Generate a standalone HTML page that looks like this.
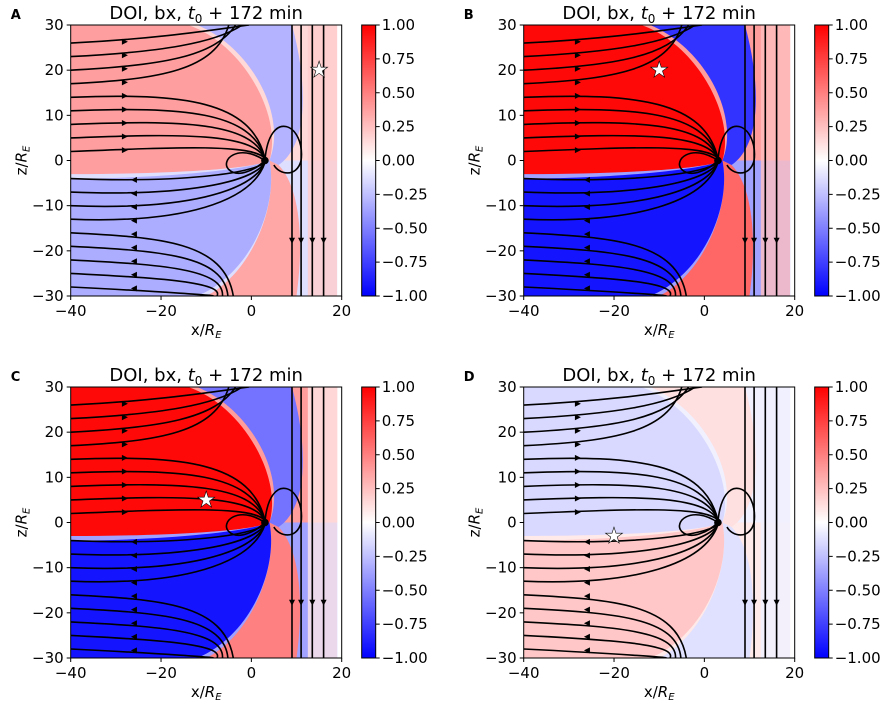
<!DOCTYPE html>
<html><head><meta charset="utf-8"><style>
body{margin:0;background:#fff;}
svg text{font-family:"DejaVu Sans","Liberation Sans",sans-serif;fill:#000;}
</style></head><body>
<svg id="fig" width="891" height="708" viewBox="0 0 891 708" xmlns="http://www.w3.org/2000/svg">
<defs>
<linearGradient id="cbar" x1="0" y1="1" x2="0" y2="0">
<stop offset="0" stop-color="#0000ff"/><stop offset="0.5" stop-color="#ffffff"/><stop offset="1" stop-color="#ff0000"/>
</linearGradient>
</defs>
</svg>
<script>
const panelLetters=["A","B","C","D"];
const upperLobe=[0.38,0.97,0.97,-0.15];
const lowerLobe=[-0.32,-0.92,-0.92,0.22];
const sheathUpper=[-0.3,-0.8,-0.55,0.12];
const sheathLower=[0.35,0.6,0.5,-0.12];
const stripVal=[0.2,0.25,0.1,-0.06];
const starX=[15,-10,-10,-20];
const starZ=[20,20,5,-3];
const xTicks=[-40,-20,0,20];
const zTicks=[-30,-20,-10,0,10,20,30];
const cbTicks=[-1,-0.75,-0.5,-0.25,0,0.25,0.5,0.75,1];
const upperLines=[2,5,8,11,14,17,20,23,26];
const lowerLines=[-4,-7,-10,-13,-16,-19,-22,-25,-28];
const verticalLines=[9,11,13.5,16];

const svg=document.getElementById('fig');
const NS="http://www.w3.org/2000/svg";
function el(t,a,p){const e=document.createElementNS(NS,t);for(const k in a)e.setAttribute(k,a[k]);(p||svg).appendChild(e);return e;}
function col(v){v=Math.max(-1,Math.min(1,v));let r,g,b;if(v>=0){r=255;g=b=Math.round(255*(1-v));}else{b=255;r=g=Math.round(255*(1+v));}return `rgb(${r},${g},${b})`;}
function fmt(v){return (v<0?"\u2212":"")+Math.abs(v).toFixed(2);}

const X0=70.7,Y0=25,W=271,H=271,DX=453,DY=362;
panelLetters.forEach((L,i)=>{
  const ox=X0+(i%2)*DX, oy=Y0+Math.floor(i/2)*DY;
  const sx=x=>ox+(x+40)/60*W, sz=z=>oy+(30-z)/60*H;
  const P=(x,z)=>sx(x).toFixed(1)+","+sz(z).toFixed(1);
  const g=el('g',{});
  
  
  const cid='clip'+i;
  const cp=el('clipPath',{id:cid},g);el('rect',{x:ox,y:oy,width:W,height:H},cp);
  const pg=el('g',{'clip-path':`url(#${cid})`},g);
  
  
  el('rect',{x:ox,y:oy,width:W,height:H,fill:col(upperLobe[i]*0.4)},pg);
  el('rect',{x:ox,y:sz(0),width:W,height:H/2,fill:col(lowerLobe[i]*0.4)},pg);
  const su=el('path',{d:`M${P(-12,30)}L${P(9,30)}C${P(13,15)} ${P(12,3)} ${P(6,-1)}L${P(4,0)}C${P(8,10)} ${P(0,25)} ${P(-12,30)}Z`,fill:col(sheathUpper[i])},pg);
  
  const sl=el('path',{d:`M${P(-10,-30)}L${P(10,-30)}C${P(12,-15)} ${P(10,-5)} ${P(6,-1)}L${P(4,0)}C${P(6,-10)} ${P(0,-25)} ${P(-10,-30)}Z`,fill:col(sheathLower[i])},pg);
  
  const ul=el('path',{d:`M${P(-40,-3)}L${P(-40,30)}L${P(-14,30)}C${P(-2,26)} ${P(7,10)} ${P(4,0)}C${P(0,-2)} ${P(-20,-3)} ${P(-40,-3)}Z`,fill:col(upperLobe[i])},pg);
  
  const ll=el('path',{d:`M${P(-40,-4)}L${P(-40,-30)}L${P(-12,-30)}C${P(0,-25)} ${P(6,-10)} ${P(4,0)}C${P(0,-2)} ${P(-20,-4)} ${P(-40,-4)}Z`,fill:col(lowerLobe[i])},pg);
  
  el('rect',{x:sx(12.5),y:oy,width:sx(19)-sx(12.5),height:H,fill:col(stripVal[i]),opacity:0.8},pg);
  el('rect',{x:sx(19),y:oy,width:sx(20)-sx(19),height:H,fill:'#fff'},pg);
  const sg=el('g',{fill:'none',stroke:'#000','stroke-width':1.6},pg);
  
  
  upperLines.forEach(z=>{
    let d;
    if(z<15) d=`M${P(-40,z)}C${P(-15,z+1)} ${P(0,z*0.8+2)} ${P(3,0.5)}`;
    else d=`M${P(-40,z)}C${P(-20,z+1)} ${P(-8,z+3)} ${P(-6+(z-15)*0.5,30)}`;
    el('path',{d},sg);
    el('polygon',{points:`${sx(-28)-3},${sz(z+0.3)-3} ${sx(-28)+3},${sz(z+0.3)} ${sx(-28)-3},${sz(z+0.3)+3}`,fill:'#000',stroke:'none'},sg);
  });
  lowerLines.forEach(z=>{
    let d;
    if(z>-16) d=`M${P(-40,z)}C${P(-15,z-1)} ${P(0,z*0.7)} ${P(3,-0.5)}`;
    else d=`M${P(-40,z)}C${P(-20,z-1)} ${P(-6,z-2)} ${P(-4+(z+16)*0.4,-30)}`;
    el('path',{d},sg);
    el('polygon',{points:`${sx(-26)+3},${sz(z-0.3)-3} ${sx(-26)-3},${sz(z-0.3)} ${sx(-26)+3},${sz(z-0.3)+3}`,fill:'#000',stroke:'none'},sg);
  });
  verticalLines.forEach(x=>{
    el('path',{d:`M${P(x,30)}L${P(x,-30)}`},sg);
    el('polygon',{points:`${sx(x)-3},${sz(-18)-4} ${sx(x)+3},${sz(-18)-4} ${sx(x)},${sz(-18)+2}`,fill:'#000',stroke:'none'},sg);
  });
  el('path',{d:`M${P(3,0)}C${P(4,12)} ${P(12,8)} ${P(11,0)}C${P(10,-4)} ${P(6,-3)} ${P(5,-1)}`},sg);
  el('path',{d:`M${P(3,0)}C${P(-3,4)} ${P(-7,0)} ${P(-5,-2)}C${P(-3,-4)} ${P(1,-2)} ${P(3,0)}`},sg);
  el('circle',{cx:sx(3),cy:sz(0),r:3,fill:'#000'},sg);
  const st=el('text',{x:sx(starX[i]),y:sz(starZ[i])+7,'text-anchor':'middle','font-size':22,stroke:'#000','stroke-width':0.6},g);
  st.textContent='\u2605';st.setAttribute('style','fill:#fff');
  
  
  el('rect',{x:ox,y:oy,width:W,height:H,fill:'none',stroke:'#000','stroke-width':1},g);
  xTicks.forEach(v=>{
    el('line',{x1:sx(v),x2:sx(v),y1:oy+H,y2:oy+H+4,stroke:'#000'},g);
    const t=el('text',{x:sx(v),y:oy+H+20,'text-anchor':'middle','font-size':15},g);t.textContent=(v<0?"\u2212":"")+Math.abs(v);
    
    
  });
  zTicks.forEach(v=>{
    el('line',{x1:ox-4,x2:ox,y1:sz(v),y2:sz(v),stroke:'#000'},g);
    const t=el('text',{x:ox-7,y:sz(v)+5,'text-anchor':'end','font-size':15},g);t.textContent=(v<0?"\u2212":"")+Math.abs(v);
    
    
  });
  const xl=el('text',{x:ox+W/2,y:oy+H+39,'text-anchor':'middle','font-size':15},g);
  xl.innerHTML='x/<tspan font-style="italic">R</tspan><tspan font-size="10" dy="3" font-style="italic">E</tspan>';
  
  
  const zl=el('text',{x:0,y:0,'text-anchor':'middle','font-size':15,transform:`translate(${ox-44},${oy+H/2}) rotate(-90)`},g);
  zl.innerHTML='z/<tspan font-style="italic">R</tspan><tspan font-size="10" dy="3" font-style="italic">E</tspan>';
  
  
  const ti=el('text',{x:ox+W/2,y:oy-6,'text-anchor':'middle','font-size':18},g);
  ti.innerHTML='DOI, bx, <tspan font-style="italic">t</tspan><tspan font-size="12" dy="4">0</tspan><tspan dy="-4"> + 172 min</tspan>';
  
  
  const lt=el('text',{x:ox-60,y:oy-6,'font-size':13,'font-weight':'bold'},g);lt.textContent=L;
  
  
  const cx=ox+291,cw=14;
  const cb=el('rect',{x:cx,y:oy,width:cw,height:H,fill:'url(#cbar)',stroke:'#000','stroke-width':1},g);
  
  
  cbTicks.forEach(v=>{
    const y=oy+(1-v)/2*H;
    el('line',{x1:cx+cw,x2:cx+cw+4,y1:y,y2:y,stroke:'#000'},g);
    const t=el('text',{x:cx+cw+6,y:y+5,'font-size':15},g);t.textContent=fmt(v);
    
    
  });
});
</script>
</body></html>
